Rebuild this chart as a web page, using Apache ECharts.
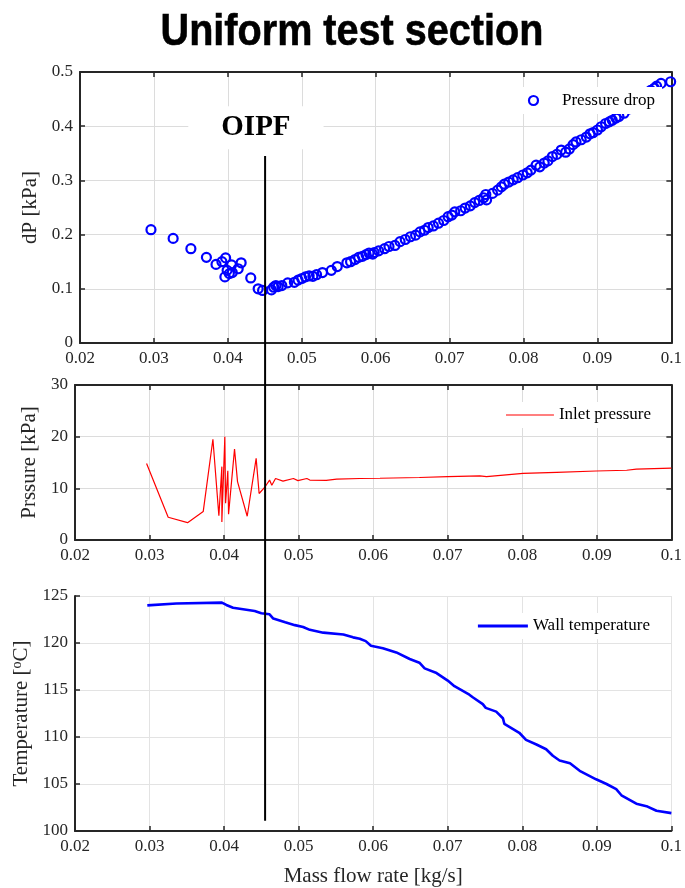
<!DOCTYPE html>
<html>
<head>
<meta charset="utf-8">
<script src="https://cdn.jsdelivr.net/npm/echarts@6/dist/echarts.min.js"></script>
<style>html,body{margin:0;padding:0;background:#fff}#c{width:685px;height:888px}</style>
</head>
<body>
<div id="c"></div>
<script>
// ---- data ----
const titleText = 'Uniform test section';
const xName = 'Mass flow rate [kg/s]';
const dpName = 'dP [kPa]';
const pName = 'Prssure [kPa]';
const oipfLabel = 'OIPF';
const oipfFlow = 0.0455;

const dpFlow = [0.0296,0.0326,0.0350,0.0371,0.0384,0.0392,0.0397,0.0396,0.0399,0.0402,0.0405,0.0406,0.0414,0.0418,0.0431,0.0441,0.0447,0.0459,0.0462,0.0465,0.0468,0.0473,0.0481,0.0490,0.0495,0.0500,0.0505,0.0510,0.0515,0.0520,0.0528,0.0540,0.0548,0.0561,0.0566,0.0572,0.0577,0.0582,0.0587,0.0591,0.0596,0.0598,0.0604,0.0612,0.0618,0.0626,0.0633,0.0640,0.0647,0.0654,0.0660,0.0666,0.0671,0.0678,0.0685,0.0692,0.0698,0.0703,0.0707,0.0715,0.0721,0.0728,0.0734,0.0740,0.0746,0.0749,0.0750,0.0758,0.0765,0.0770,0.0774,0.0780,0.0786,0.0792,0.0799,0.0805,0.0810,0.0817,0.0822,0.0828,0.0833,0.0839,0.0845,0.0851,0.0857,0.0862,0.0867,0.0871,0.0878,0.0885,0.0890,0.0894,0.0900,0.0905,0.0911,0.0916,0.0920,0.0925,0.0929,0.0936,0.0943,0.0950,0.0958,0.0966,0.0972,0.0977,0.0980,0.0986,0.0999];
const dpValue = [0.209,0.193,0.174,0.158,0.145,0.150,0.157,0.122,0.134,0.128,0.144,0.130,0.137,0.148,0.120,0.100,0.097,0.098,0.103,0.106,0.104,0.106,0.111,0.112,0.116,0.119,0.122,0.124,0.123,0.126,0.130,0.134,0.141,0.148,0.150,0.154,0.158,0.160,0.163,0.166,0.164,0.167,0.170,0.174,0.178,0.180,0.187,0.191,0.196,0.199,0.205,0.208,0.213,0.216,0.221,0.226,0.233,0.236,0.242,0.244,0.249,0.253,0.259,0.263,0.268,0.274,0.264,0.276,0.282,0.288,0.293,0.297,0.301,0.305,0.310,0.314,0.319,0.328,0.325,0.332,0.336,0.344,0.348,0.356,0.352,0.358,0.366,0.371,0.375,0.380,0.386,0.388,0.393,0.399,0.405,0.408,0.411,0.415,0.418,0.424,0.432,0.440,0.450,0.460,0.466,0.470,0.474,0.479,0.482];

const pFlow = [0.0296,0.0325,0.0351,0.0372,0.0385,0.0393,0.0397,0.0397,0.0401,0.0402,0.0405,0.0406,0.0414,0.0418,0.0431,0.0443,0.0447,0.0455,0.0461,0.0464,0.0469,0.0479,0.0493,0.0499,0.0511,0.0515,0.0537,0.0551,0.0582,0.0609,0.0662,0.0700,0.0743,0.0752,0.0801,0.0846,0.0899,0.0940,0.0953,0.1000];
const pValue = [14.8,4.4,3.35,5.5,19.5,4.7,14.2,3.5,20.0,7.1,13.4,5.0,17.6,11.3,4.6,15.8,9.0,10.3,11.6,10.6,11.9,11.4,11.9,11.5,11.9,11.6,11.55,11.8,11.9,11.95,12.1,12.25,12.4,12.25,12.9,13.1,13.35,13.5,13.7,13.9];

const tFlow = [0.0297,0.0336,0.0397,0.0403,0.0412,0.0441,0.0450,0.0461,0.0466,0.0482,0.0495,0.0506,0.0515,0.0533,0.0560,0.0573,0.0582,0.0590,0.0597,0.0613,0.0631,0.0649,0.0662,0.0669,0.0685,0.0700,0.0709,0.0729,0.0734,0.0747,0.0751,0.0765,0.0774,0.0776,0.0796,0.0805,0.0819,0.0832,0.0841,0.0850,0.0864,0.0877,0.0899,0.0913,0.0926,0.0933,0.0953,0.0968,0.0980,0.1000];
const tValue = [124.0,124.2,124.3,124.05,123.75,123.4,123.17,123.05,122.6,122.2,121.9,121.7,121.4,121.1,120.9,120.6,120.45,120.2,119.7,119.45,119.0,118.3,117.9,117.3,116.8,116.0,115.4,114.5,114.2,113.5,113.1,112.7,112.0,111.4,110.45,109.7,109.2,108.7,108.0,107.5,107.2,106.4,105.5,105.0,104.45,103.8,102.9,102.6,102.15,101.9];

const zip = (a, b) => a.map((v, i) => [v, b[i]]);

// ---- styles ----
const AX = '#262626';
const tickFont = {color: AX, fontFamily: '"Liberation Serif"', fontSize: 17};
const nameFont = {color: AX, fontFamily: '"Liberation Serif"', fontSize: 21};
const fmtX = v => String(+v.toFixed(2));

function xAx(grid, opts) {
  return Object.assign({
    type: 'value', gridIndex: grid, min: 0.02, max: 0.1, interval: 0.01,
    axisLine: {show: true, onZero: false, lineStyle: {color: AX, width: 2}},
    axisTick: {show: true, inside: true, length: 5, lineStyle: {color: AX, width: 1.5}},
    axisLabel: Object.assign({formatter: fmtX, margin: 7}, tickFont),
    splitLine: {show: true, lineStyle: {color: '#dcdcdc', width: 1}}
  }, opts || {});
}
function mirrorX(grid) {
  return xAx(grid, {position: 'top', axisLabel: {show: false}, splitLine: {show: false}});
}
function yAx(grid, min, max, interval, opts) {
  return Object.assign({
    type: 'value', gridIndex: grid, min: min, max: max, interval: interval,
    axisLine: {show: true, onZero: false, lineStyle: {color: AX, width: 2}},
    axisTick: {show: true, inside: true, length: 5, lineStyle: {color: AX, width: 1.5}},
    axisLabel: Object.assign({margin: 7, formatter: v => String(+v.toFixed(2))}, tickFont),
    splitLine: {show: true, lineStyle: {color: '#dcdcdc', width: 1}},
    nameLocation: 'middle', nameTextStyle: nameFont
  }, opts || {});
}
function mirrorY(grid, min, max, interval) {
  return yAx(grid, min, max, interval, {position: 'right', axisLabel: {show: false}, splitLine: {show: false}});
}

const chart = echarts.init(document.getElementById('c'), null, {renderer: 'canvas'});

const option = {
  backgroundColor: '#fff',
  animation: false,
  grid: [
    {left: 80, right: 8, top: 72, height: 271},
    {left: 75, right: 13, top: 385, height: 155},
    {left: 75, right: 13, top: 596, height: 236}
  ],
  xAxis: [
    xAx(0),
    xAx(1),
    xAx(2, {name: xName, nameLocation: 'middle', nameGap: 35, nameTextStyle: nameFont,
            splitLine: {show: true, lineStyle: {color: '#e3e3e3', width: 1}}}),
    mirrorX(0),
    mirrorX(1)
  ],
  yAxis: [
    yAx(0, 0, 0.5, 0.1, {name: dpName, nameGap: 37}),
    yAx(1, 0, 30, 10, {name: pName, nameGap: 30}),
    yAx(2, 100, 125, 5, {
      name: 'Temperature [{sup|o}C]', nameGap: 40,
      nameTextStyle: Object.assign({}, nameFont, {rich: {sup: {fontFamily: '"Liberation Serif"', fontSize: 14, color: AX, verticalAlign: 'top', padding: [0, 0, 8, 0]}}}),
      splitLine: {show: true, lineStyle: {color: '#e3e3e3', width: 1}}
    }),
    mirrorY(0, 0, 0.5, 0.1),
    mirrorY(1, 0, 30, 10)
  ],
  legend: [
    {data: [{name: 'Pressure drop', icon: 'circle', itemStyle: {color: 'rgba(0,0,0,0)', borderColor: '#0000ff', borderWidth: 2.2, opacity: 1}}],
     right: 23, top: 87, orient: 'vertical', backgroundColor: '#fff', padding: [5, 7, 5, 5],
     itemWidth: 25, itemHeight: 9, itemGap: 0,
     textStyle: Object.assign({}, tickFont, {color: '#000', lineHeight: 16, padding: [0, 0, 0, 11]})},
    {data: [{name: 'Inlet pressure', icon: 'rect', itemStyle: {color: '#ff0000'}}], right: 29, top: 402, backgroundColor: '#fff', padding: [4, 5, 4, 5],
     itemWidth: 48, itemHeight: 1.2, textStyle: Object.assign({}, tickFont, {color: '#000', lineHeight: 18})},
    {data: [{name: 'Wall temperature', icon: 'rect', itemStyle: {color: '#0000ff'}}], right: 30, top: 613, backgroundColor: '#fff', padding: [4, 5, 4, 5],
     itemWidth: 50, itemHeight: 3, textStyle: Object.assign({}, tickFont, {color: '#000', lineHeight: 18})}
  ],
  series: [
    {name: 'Pressure drop', type: 'scatter', xAxisIndex: 0, yAxisIndex: 0,
     data: zip(dpFlow, dpValue), symbol: 'circle', symbolSize: 9,
     itemStyle: {color: 'rgba(0,0,0,0)', borderColor: '#0000ff', borderWidth: 2.2, opacity: 1}},
    {name: 'Inlet pressure', type: 'line', xAxisIndex: 1, yAxisIndex: 1,
     data: zip(pFlow, pValue), symbol: 'none', lineStyle: {color: '#ff0000', width: 1.2}, itemStyle: {color: '#ff0000'}},
    {name: 'Wall temperature', type: 'line', xAxisIndex: 2, yAxisIndex: 2,
     data: zip(tFlow, tValue), symbol: 'none', lineStyle: {color: '#0000ff', width: 2.6}, itemStyle: {color: '#0000ff'}}
  ],
  graphic: [
    {id: 'title', type: 'text', x: 352, y: 33, scaleX: 0.88, z: 100,
     style: {text: titleText, font: 'bold 45px "Liberation Sans"', fill: '#000', textAlign: 'center', textVerticalAlign: 'middle', stroke: '#000', lineWidth: 0.6}}
  ]
};
chart.setOption(option);

// OIPF marker line placed through the axis scales
const lx = chart.convertToPixel({xAxisIndex: 1}, oipfFlow);
const ly1 = chart.convertToPixel({yAxisIndex: 0}, 0.345);
const ly2 = chart.convertToPixel({yAxisIndex: 2}, 101.1);
const tx = chart.convertToPixel({xAxisIndex: 0}, 0.0438);
const ty = chart.convertToPixel({yAxisIndex: 0}, 0.397);
chart.setOption({
  graphic: [
    {id: 'oipfLine', type: 'line', z: 100, shape: {x1: lx, y1: ly1, x2: lx, y2: ly2}, style: {stroke: '#000', lineWidth: 2}},
    {id: 'oipfText', type: 'text', x: tx, y: ty, z: 100,
     style: {text: oipfLabel, font: 'bold 29px "Liberation Serif"', fill: '#000', textAlign: 'center', textVerticalAlign: 'middle',
             backgroundColor: '#fff', padding: [7, 33, 7, 33]}}
  ]
});
</script>
</body>
</html>
